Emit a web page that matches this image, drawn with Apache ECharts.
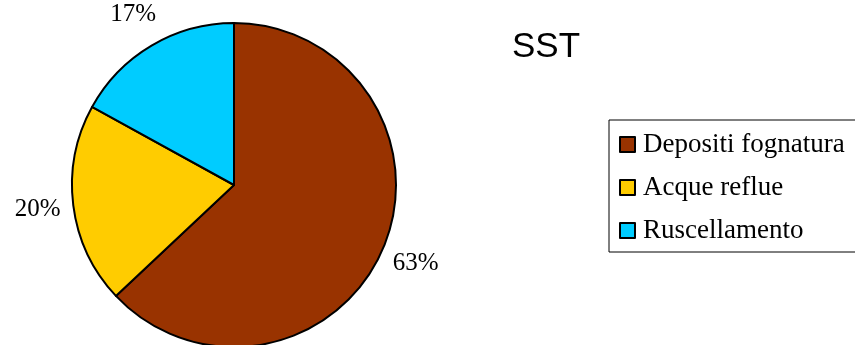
<!DOCTYPE html>
<html>
<head>
<meta charset="utf-8">
<script src="https://cdn.jsdelivr.net/npm/echarts@6/dist/echarts.min.js"></script>
<style>
  html, body { margin: 0; padding: 0; background: #fff; }
  #chart { width: 855px; height: 345px; }
</style>
</head>
<body>
<div id="chart"></div>
<script>
// Sources of suspended solids (SST), share in percent
const categories = ['Depositi fognatura', 'Acque reflue', 'Ruscellamento'];
const shares = [63, 20, 17];
const sliceColors = ['#993300', '#FFCC00', '#00CCFF'];
const chartTitle = 'SST';

const pieData = categories.map((name, i) => ({
  name: name,
  value: shares[i],
  itemStyle: { color: sliceColors[i] }
}));

const serif = '"Liberation Serif", "Times New Roman", serif';
const center = [234, 185];

const chart = echarts.init(document.getElementById('chart'), null, { renderer: 'canvas' });
chart.setOption({
  animation: false,
  backgroundColor: '#ffffff',
  title: {
    text: chartTitle,
    left: 507,
    top: 25,
    textStyle: {
      fontFamily: '"Liberation Sans", Arial, sans-serif',
      fontSize: 35,
      fontWeight: 'normal',
      color: '#000'
    }
  },
  legend: {
    orient: 'vertical',
    left: 609,
    top: 120,
    padding: [11, 20, 8, 10],
    itemWidth: 15,
    itemHeight: 15,
    itemGap: 16,
    icon: 'rect',
    borderColor: '#000',
    borderWidth: 1,
    data: categories,
    textStyle: {
      fontFamily: serif,
      fontSize: 27,
      lineHeight: 27,
      color: '#000',
      padding: [0, 0, 0, 3]
    }
  },
  series: [
    {
      type: 'pie',
      center: center,
      radius: 162,
      startAngle: 90,
      clockwise: true,
      silent: true,
      data: pieData,
      itemStyle: { borderColor: '#000', borderWidth: 2 },
      label: { show: false },
      labelLine: { show: false }
    },
    {
      // invisible ring used only to place the percentage labels around the pie
      type: 'pie',
      center: center,
      radius: [190, 200],
      startAngle: 90,
      clockwise: true,
      silent: true,
      data: pieData.map(d => ({ name: d.name, value: d.value })),
      itemStyle: { color: 'rgba(0,0,0,0)', borderWidth: 0 },
      label: {
        show: true,
        position: 'inside',
        formatter: p => p.value + '%',
        fontFamily: serif,
        fontSize: 25,
        color: '#000'
      },
      labelLine: { show: false }
    }
  ]
});
</script>
</body>
</html>
